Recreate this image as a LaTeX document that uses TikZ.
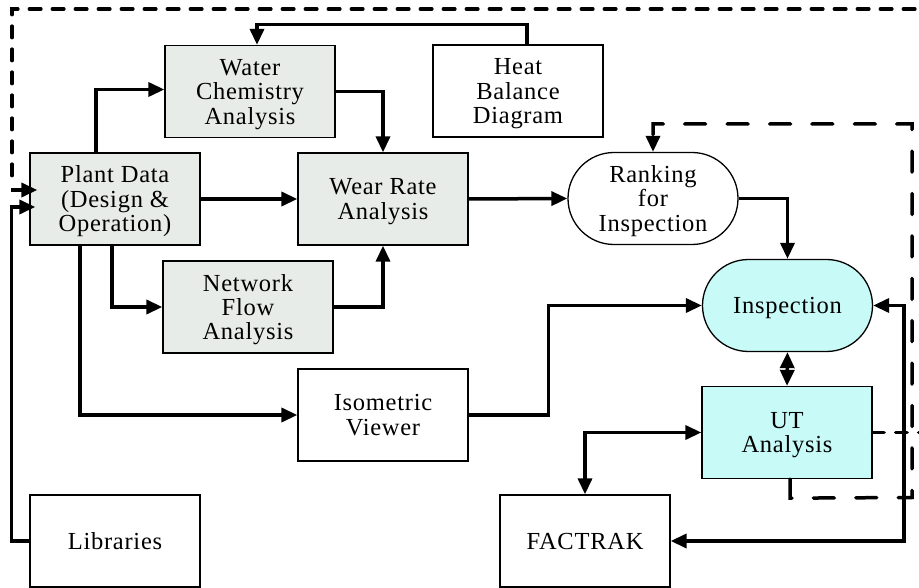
\documentclass[tikz,border=0pt]{standalone}
\usepackage{fontspec}
\setmainfont{Liberation Serif}[LetterSpace=3]
\usetikzlibrary{arrows.meta}
\definecolor{grayfill}{HTML}{E8ECE8}
\definecolor{cyanfill}{HTML}{C8FAF8}
% last line: report a fixed (slightly negative) depth so all texts centre alike
\newcommand\lastln[1]{\raisebox{0pt}[\height][-3pt]{#1}}
\begin{document}
\begin{tikzpicture}[x=1pt,y=1pt,
 box/.style={draw, line width=1.3pt, minimum width=170pt, minimum height=92pt, align=center, inner sep=0pt, font=\fontsize{24.5}{24.5}\selectfont},
 gbox/.style={box, fill=grayfill},
 cbox/.style={box, fill=cyanfill},
 stad/.style={box, rounded corners=46pt},
 tip/.tip={Triangle[length=16pt,width=14pt]},
 arr/.style={line width=3.5pt, -tip},
 darr/.style={line width=3.5pt, tip-tip},
 dashA/.style={line width=3.5pt, line cap=round, dash pattern=on 11.5pt off 11.5pt},
 dashB/.style={line width=3.5pt, line cap=round, dash pattern=on 21pt off 21.4pt},
]
\useasboundingbox (0,0) rectangle (919,-588);
\clip (0,0) rectangle (919,-588);

\node[gbox] (wca) at (250,-91.5) {Water\\Chemistry\\\lastln{Analysis}};
\node[box] (heat) at (518,-91) {Heat\\Balance\\\lastln{Diagram}};
\node[gbox] (plant) at (115,-199) {Plant Data\\(Design \&\\\lastln{Operation)}};
\node[gbox] (wear) at (383,-199) {Wear Rate\\\lastln{Analysis}};
\node[stad] (rank) at (653,-198.5) {Ranking\\for\\\lastln{Inspection}};
\node[gbox] (net) at (248,-307) {Network\\Flow\\\lastln{Analysis}};
\node[stad, fill=cyanfill] (insp) at (787.5,-305.5) {\lastln{Inspection}};
\node[box] (iso) at (383,-415) {Isometric\\\lastln{Viewer}};
\node[cbox] (ut) at (787,-432.5) {UT\\\lastln{Analysis}};
\node[box] (lib) at (115,-541) {\lastln{Libraries}};
\node[box] (fac) at (585,-541) {\lastln{FACTRAK}};

\coordinate (lc) at (11,-190);

\draw[arr] ([xshift=9pt]heat.north) -- ++(0,20) -| ([xshift=7pt]wca.north);
\draw[arr] ([xshift=-19pt]plant.north) |- ([yshift=2pt]wca.west);
\draw[arr] (wca.east) -| (wear.north);
\draw[arr] (plant.east) -- (wear.west);
\draw[arr] ([xshift=-3pt]plant.south) |- (net.west);
\draw[arr] (net.east) -| (wear.south);
\draw[arr] ([xshift=-35pt]plant.south) |- (iso.west);
\draw[arr, shorten >=-6pt] (lib.west) -- ++(-18,0) |- ([yshift=-8pt]plant.west);
\draw[arr] (wear.east) -- (rank.west);
\draw[arr] (rank.east) -| (insp.north);
\draw[arr] (iso.east) -- ++(80,0) |- (insp.west);
\draw[darr] (insp.south) -- (ut.north);
\draw[darr] (ut.west) -| (fac.north);
\draw[darr] (insp.east) -- ++(31,0) |- (fac.east);

\draw[dashA] (ut.east) -- (935,-432.5) -- (935,-9) -- (12,-9) -- (12,-178);
\draw[arr, shorten >=-8pt] (lc) -- (lc -| plant.west);
\draw[dashB, -tip] ([xshift=3pt]ut.south) -- ++(0,-19) -- (912,-497.5) -- (912,-124) -| (rank.north);
\end{tikzpicture}
\end{document}
